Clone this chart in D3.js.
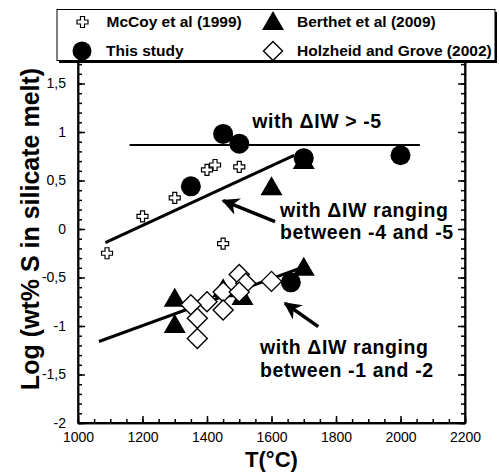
<!DOCTYPE html>
<html>
<head>
<meta charset="utf-8">
<script src="https://cdn.jsdelivr.net/npm/d3@7"></script>
<style>
  body { margin: 0; background: #fff; }
  svg { font-family: "Liberation Sans", Arial, Helvetica, sans-serif; }
  .axis path, .axis line { stroke: #000; stroke-width: 1.5px; }
  .axis text { font-size: 14px; fill: #000; }
</style>
</head>
<body>
<div id="chart"></div>
<script>
// McCoy et al (1999)
var mccoyT = [1090, 1200, 1300, 1400, 1425, 1500, 1450];
var mccoyS = [-0.25, 0.13, 0.32, 0.61, 0.66, 0.64, -0.15];
// This study
var studyT = [1350, 1450, 1500, 1700, 2000, 1660];
var studyS = [0.44, 0.98, 0.88, 0.73, 0.76, -0.55];
// Berthet et al (2009)
var berthetT = [1600, 1700, 1300, 1300, 1700, 1510, 1450];
var berthetS = [0.43, 0.70, -0.72, -0.99, -0.40, -0.70, -0.62];
// Holzheid and Grove (2002)
var holzT = [1500, 1520, 1600, 1450, 1450, 1400, 1350, 1370, 1370, 1500];
var holzS = [-0.47, -0.56, -0.54, -0.65, -0.835, -0.75, -0.78, -0.92, -1.13, -0.65];

// trend lines [T0, S0, T1, S1]
var lineFlat = [1160, 0.865, 2060, 0.865];
var lineMid = [1085, -0.14, 1670, 0.76];
var lineLow = [1065, -1.16, 1700, -0.39];

var xTicks = [1000, 1200, 1400, 1600, 1800, 2000, 2200];
var yTicks = [-2, -1.5, -1, -0.5, 0, 0.5, 1, 1.5];

var legendLabels = ['McCoy et al (1999)', 'Berthet et al (2009)', 'This study', 'Holzheid and Grove (2002)'];

var W = 499, H = 473;
var margin = {top: 35, right: 34, bottom: 50, left: 78};
var width = W - margin.left - margin.right;
var height = H - margin.top - margin.bottom;

var svg = d3.select('#chart').append('svg')
  .attr('width', W)
  .attr('height', H);

var g = svg.append('g')
  .attr('transform', 'translate(' + margin.left + ',' + margin.top + ')');

var x = d3.scaleLinear().domain([1000, 2200]).range([0, width]);
var y = d3.scaleLinear().domain([-2, 2]).range([height, 0]);

function fmt(d) { return String(d).replace('.', ','); }

var minorY = d3.range(-20, 21).map(function(d){ return d / 10; });

// minor ticks
g.append('g').attr('class', 'axis')
  .attr('transform', 'translate(0,' + height + ')')
  .call(d3.axisBottom(x).tickValues(d3.range(1000, 2201, 50)).tickSize(-4).tickSizeOuter(0).tickFormat(''));
g.append('g').attr('class', 'axis')
  .call(d3.axisLeft(y).tickValues(minorY).tickSize(-4).tickSizeOuter(0).tickFormat(''));
g.append('g').attr('class', 'axis')
  .attr('transform', 'translate(' + width + ',0)')
  .call(d3.axisRight(y).tickValues(minorY).tickSize(-4).tickSizeOuter(0).tickFormat(''));

// major ticks
g.append('g').attr('class', 'axis')
  .attr('transform', 'translate(0,' + height + ')')
  .call(d3.axisBottom(x).tickValues(xTicks).tickSize(-7).tickSizeOuter(0).tickPadding(9).tickFormat(d3.format('d')));
g.append('g').attr('class', 'axis')
  .call(d3.axisLeft(y).tickValues(yTicks).tickSize(-7).tickSizeOuter(0).tickPadding(12).tickFormat(fmt));
g.append('g').attr('class', 'axis')
  .attr('transform', 'translate(' + width + ',0)')
  .call(d3.axisRight(y).tickValues(yTicks).tickSize(-7).tickSizeOuter(0).tickFormat(''));

g.append('rect')
  .attr('width', width).attr('height', height)
  .attr('fill', 'none').attr('stroke', '#000').attr('stroke-width', 1.5);
g.append('line')
  .attr('x1', 0).attr('x2', width).attr('y1', height).attr('y2', height)
  .attr('stroke', '#000').attr('stroke-width', 2);

// axis titles
svg.append('text')
  .attr('transform', 'translate(39,' + (margin.top + y(0)) + ') rotate(-90)')
  .attr('text-anchor', 'middle')
  .style('font-size', '25px').style('font-weight', 'bold')
  .text('Log (wt% S in silicate melt)');
svg.append('text')
  .attr('x', margin.left + x(1600)).attr('y', 467)
  .attr('text-anchor', 'middle')
  .style('font-size', '22px').style('font-weight', 'bold')
  .text('T(°C)');

// marker shapes
function plusPath(s, a) {
  return 'M' + (-a) + ',' + (-s) + 'H' + a + 'V' + (-a) + 'H' + s + 'V' + a + 'H' + a + 'V' + s +
    'H' + (-a) + 'V' + a + 'H' + (-s) + 'V' + (-a) + 'H' + (-a) + 'Z';
}
function triPath(r) {
  return 'M0,' + (-r * 1.1) + 'L' + (r * 1.1) + ',' + (r * 0.8) + 'L' + (-r * 1.1) + ',' + (r * 0.8) + 'Z';
}
function diaPath(r) {
  return 'M0,' + (-r) + 'L' + r + ',0L0,' + r + 'L' + (-r) + ',0Z';
}

var pts = g.append('g');

pts.selectAll('.tri').data(berthetT).enter().append('path')
  .attr('d', triPath(10))
  .attr('transform', function(d, i){ return 'translate(' + x(d) + ',' + y(berthetS[i]) + ')'; })
  .attr('fill', '#000');

pts.selectAll('.dia').data(holzT).enter().append('path')
  .attr('d', diaPath(10))
  .attr('transform', function(d, i){ return 'translate(' + x(d) + ',' + y(holzS[i]) + ')'; })
  .attr('fill', '#fff').attr('stroke', '#000').attr('stroke-width', 1.4);

pts.selectAll('.plus').data(mccoyT).enter().append('path')
  .attr('d', plusPath(5.5, 2))
  .attr('transform', function(d, i){ return 'translate(' + x(d) + ',' + y(mccoyS[i]) + ')'; })
  .attr('fill', '#fff').attr('stroke', '#000').attr('stroke-width', 1.2);

// trend lines
[lineFlat, lineMid, lineLow].forEach(function(l, i){
  g.append('line')
    .attr('x1', x(l[0])).attr('y1', y(l[1]))
    .attr('x2', x(l[2])).attr('y2', y(l[3]))
    .attr('stroke', '#000').attr('stroke-width', i == 0 ? 2 : 3);
});

pts.raise();
pts.selectAll('.circ').data(studyT).enter().append('circle')
  .attr('cx', function(d){ return x(d); })
  .attr('cy', function(d, i){ return y(studyS[i]); })
  .attr('r', 10)
  .attr('fill', '#000');

// arrows
svg.append('defs').append('marker')
  .attr('id', 'head')
  .attr('viewBox', '0 0 10 10')
  .attr('refX', 9).attr('refY', 5)
  .attr('markerWidth', 5).attr('markerHeight', 5)
  .attr('markerUnits', 'strokeWidth')
  .attr('orient', 'auto')
  .append('path')
  .attr('d', 'M0,0L10,5L0,10L3,5Z')
  .attr('fill', '#000');

var arrows = [[1611, 0.075, 1450, 0.292], [1745, -1.007, 1642, -0.766]];
arrows.forEach(function(a){
  g.append('line')
    .attr('x1', x(a[0])).attr('y1', y(a[1]))
    .attr('x2', x(a[2])).attr('y2', y(a[3]))
    .attr('stroke', '#000').attr('stroke-width', 3.5)
    .attr('marker-end', 'url(#head)');
});

// annotations
var notes = [
  {t: 1540, s: 1.04, lines: ['with \u0394IW > -5']},
  {t: 1626, s: 0.124, lines: ['with \u0394IW ranging', 'between -4 and -5']},
  {t: 1564, s: -1.289, lines: ['with \u0394IW ranging', 'between -1 and -2']}
];
notes.forEach(function(n){
  var tx = g.append('text')
    .attr('x', x(n.t)).attr('y', y(n.s))
    .style('font-size', '19.5px').style('font-weight', 'bold')
    .style('letter-spacing', '0.6px');
  n.lines.forEach(function(l, i){
    tx.append('tspan').attr('x', x(n.t)).attr('dy', i == 0 ? 0 : 22.5).text(l);
  });
});

// legend
var leg = svg.append('g');
leg.append('rect')
  .attr('x', 59).attr('y', 12).attr('width', 438).attr('height', 51)
  .attr('fill', '#000');
leg.append('rect')
  .attr('x', 57).attr('y', 9.5).attr('width', 438).attr('height', 51)
  .attr('fill', '#fff').attr('stroke', '#000').attr('stroke-width', 1);

var legPos = [[82.5, 22], [273, 22], [82, 51], [273, 51]];
var legShapes = [
  {d: plusPath(5.5, 2), fill: '#fff', sw: 1.2},
  {d: triPath(10), fill: '#000', sw: 0},
  {d: d3.symbol().type(d3.symbolCircle).size(Math.PI * 90)(), fill: '#000', sw: 0},
  {d: diaPath(9.5), fill: '#fff', sw: 1.4}
];
legendLabels.forEach(function(lab, i){
  leg.append('path')
    .attr('d', legShapes[i].d)
    .attr('transform', 'translate(' + legPos[i][0] + ',' + legPos[i][1] + ')')
    .attr('fill', legShapes[i].fill)
    .attr('stroke', '#000').attr('stroke-width', legShapes[i].sw);
  leg.append('text')
    .attr('x', legPos[i][0] + 24).attr('y', legPos[i][1] + 5)
    .style('font-size', '15.5px').style('font-weight', 'bold')
    .text(lab);
});
</script>
</body>
</html>
